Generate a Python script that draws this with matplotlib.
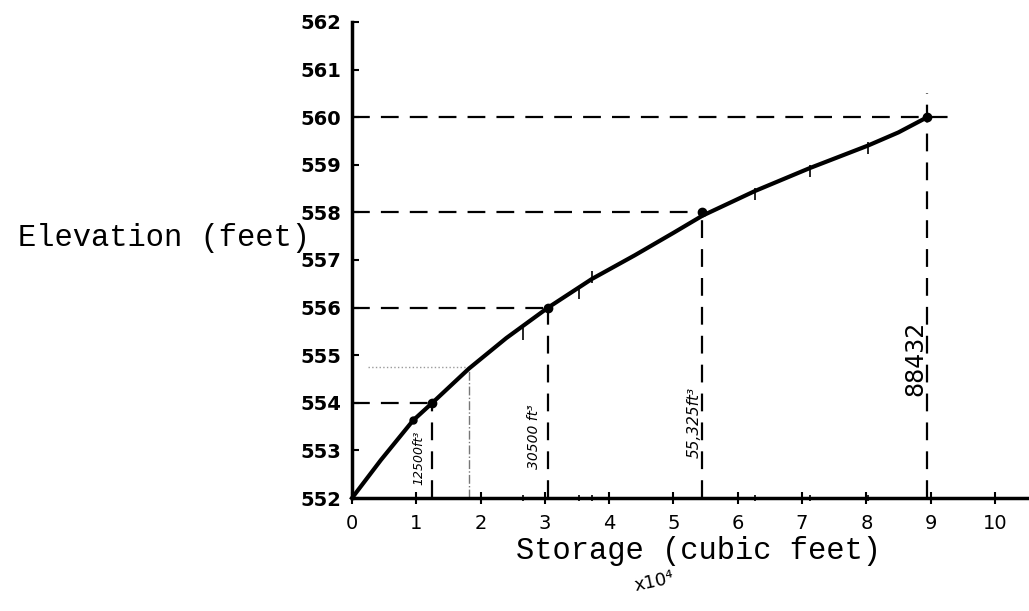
import matplotlib
matplotlib.use("Agg")
import matplotlib.pyplot as plt

# storage-elevation curve (storage x 10^4 cubic feet)
storage = [0, 0.45, 0.95, 1.25, 1.82, 2.4, 3.05, 3.73, 4.40, 5.0, 5.45, 6.27, 7.12, 8.02, 8.5, 8.95]
elevation = [552, 552.8, 553.63, 554.0, 554.72, 555.36, 556.0, 556.6, 557.1, 557.57, 557.93,
             558.45, 558.93, 559.4, 559.68, 560.0]

# marked points with dashed projections
mark_storage = [1.25, 3.05, 5.45, 8.95]
mark_elev = [554, 556, 558, 560]
hline_end = [1.25, 3.05, 5.45, 9.4]
vline_top = [554, 556, 558, 560.5]
mark_labels = ["12500ft³", "30500 ft³", "55,325ft³", "88432"]
label_x = [1.04, 2.83, 5.32, 8.76]
label_y = [552.84, 553.29, 553.58, 554.94]
label_size = [9, 10, 11, 17]
label_style = ["italic", "italic", "italic", "normal"]

# small pencil ticks across the curve
tick_x = [2.66, 3.53, 3.73, 6.27, 7.12, 8.02]
tick_y = [555.45, 556.3, 556.65, 558.38, 558.86, 559.35]

# extra dot on the curve
dot_x = 0.95
dot_y = 553.63

# faint construction line
guide_x = 1.82
guide_y = 554.75

xticks = list(range(11))
yticks = list(range(552, 563))

fig = plt.figure(figsize=(10.29, 6.11), dpi=100)
ax = fig.add_axes([0.3421, 0.1849, 0.656, 0.787])
ax.set_xlim(0, 10.5)
ax.set_ylim(552, 562.1)

# dashed projections
ax.hlines(mark_elev, 0, hline_end, colors="black", linewidth=1.6, linestyles=(0, (8, 5)))
ax.vlines(mark_storage, 552, vline_top, colors="black", linewidth=1.6, linestyles=(0, (8, 5)))

# faint dotted guide
ax.hlines([guide_y], 0.25, guide_x, colors="#9a9a9a", linewidth=1.0, linestyles=":")
ax.vlines([guide_x], 552, guide_y, colors="#777777", linewidth=1.0, linestyles="-.")

# the curve
ax.plot(storage, elevation, color="black", linewidth=3, clip_on=False, zorder=3,
        solid_joinstyle="round")
ax.plot(mark_storage, mark_elev, "o", color="black", markersize=6, zorder=4)
ax.plot([dot_x], [dot_y], "o", color="black", markersize=5, zorder=4)
ax.plot(tick_x, tick_y, "|", color="black", markersize=9, markeredgewidth=1.2, zorder=4)

for txt, lx, ly, fs, st in zip(mark_labels, label_x, label_y, label_size, label_style):
    ax.text(lx, ly, txt, rotation=90, ha="center", va="center", fontsize=fs, fontstyle=st)

# axes styling
for s in ["top", "right"]:
    ax.spines[s].set_visible(False)
ax.spines["left"].set_linewidth(2.5)
ax.spines["left"].set_bounds(552, 562)
ax.spines["bottom"].set_linewidth(2.5)

ax.set_xticks(xticks)
ax.set_xticklabels([str(v) for v in xticks])
ax.set_xticks(tick_x, minor=True)
ax.set_yticks(yticks)
ax.set_yticklabels([str(v) for v in yticks], fontweight="bold")
ax.tick_params(axis="x", direction="inout", length=9, width=1.5, pad=7, labelsize=14)
ax.tick_params(axis="x", which="minor", direction="inout", length=5, width=1.2)
ax.tick_params(axis="y", direction="in", length=5, width=1.5, pad=8, labelsize=14)

fig.text(164 / 1029, 1 - 238 / 611, "Elevation (feet)", ha="center", va="center",
         fontsize=22, family="Liberation Mono")
fig.text(698 / 1029, 1 - 551 / 611, "Storage (cubic feet)", ha="center", va="center",
         fontsize=22, family="Liberation Mono")
fig.text(654 / 1029, 1 - 582 / 611, "x10⁴", ha="center", va="center", fontsize=13,
         rotation=12)

fig.savefig("out.png", dpi=100)
